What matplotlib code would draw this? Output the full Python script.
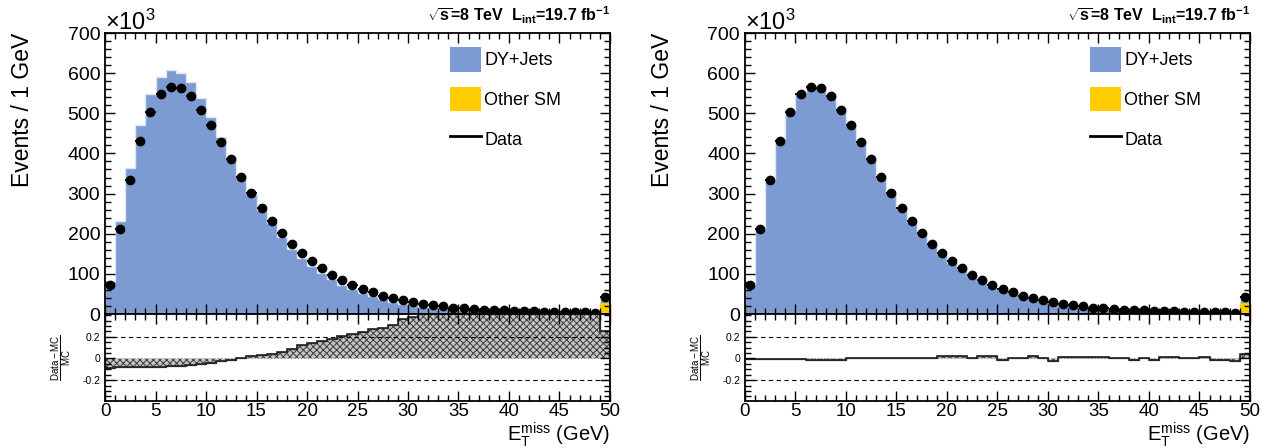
import numpy as np
import matplotlib
matplotlib.use('Agg')
import matplotlib.pyplot as plt
from matplotlib.patches import Patch
from matplotlib.lines import Line2D
from matplotlib.ticker import MultipleLocator, FixedLocator, FixedFormatter

plt.rcParams['font.family'] = ['Liberation Sans', 'DejaVu Sans']
plt.rcParams['mathtext.fontset'] = 'custom'
plt.rcParams['mathtext.rm'] = 'Liberation Sans'
plt.rcParams['mathtext.it'] = 'Liberation Sans:italic'
plt.rcParams['mathtext.bf'] = 'Liberation Sans:bold'
plt.rcParams['hatch.linewidth'] = 0.7

# MET bins 0..50 GeV, last bin is overflow; values in units of 10^3 events
edges = np.arange(0, 51, 1)
centers = edges[:-1] + 0.5

data = [72, 211, 333, 432, 504, 548, 566, 562, 542, 508,
        470, 428, 385, 342, 302, 265, 231, 203, 175, 153,
        131, 115, 98, 85, 72, 63, 54, 46, 40, 34,
        29, 25, 22, 19, 16, 14, 12.5, 11, 10, 9,
        8, 7, 6.5, 6, 5.5, 5, 4.5, 4, 3.5, 43]

other_sm = [3, 3, 3, 3, 3, 3, 3, 3, 3, 3,
            3, 3, 3, 3, 3, 3, 3, 3, 3, 3,
            3, 3, 3, 3, 3, 3, 3, 3, 3, 3,
            3, 3, 3, 3, 3, 3, 3, 3, 3, 3,
            3, 3, 3, 3, 3, 3, 3, 3, 3, 27]

# DY+Jets before reweighting (left) and after (right)
dy_left = [78, 229, 360, 467, 545, 588, 605, 597, 574, 535,
           488, 437, 388, 343, 297, 255, 223, 190, 160, 137,
           116, 98, 83, 69, 59, 49, 41, 34, 28, 23,
           19, 15, 12, 9.5, 7.5, 6, 4.8, 3.8, 3, 2.2,
           1.6, 1.0, 0.6, 0.3, 0.2, 0.1, 0.1, 0.1, 0.1, 10]
dy_right = [69.5, 209, 332, 432, 504, 548, 567, 563, 545, 510,
            468, 426, 383, 339, 298, 261, 227, 199, 171, 147,
            125, 110, 95, 80, 67, 60, 51, 43, 36, 31,
            27, 21.7, 18.7, 15.8, 12.8, 11, 9.5, 8, 7.1, 6,
            5.2, 3.9, 3.4, 3, 2.5, 1.9, 1.6, 1.1, 0.6, 14.5]

# (Data-MC)/MC
ratio_left = [-0.088, -0.078, -0.078, -0.075, -0.075, -0.075, -0.072, -0.066, -0.06, -0.05,
              -0.038, -0.025, -0.012, 0.0, 0.019, 0.028, 0.044, 0.062, 0.09, 0.12,
              0.138, 0.16, 0.18, 0.203, 0.222, 0.247, 0.275, 0.285, 0.31, 0.36,
              0.378, 0.45, 0.5, 0.52, 0.55, 0.58, 0.6, 0.62, 0.65, 0.7,
              0.72, 0.75, 0.8, 0.85, 0.9, 0.95, 1.0, 1.0, 1.0, 0.25]
ratio_right = [-0.003, -0.003, -0.003, -0.008, -0.008, -0.005, -0.012, -0.012, -0.012, -0.012,
               0.0, 0.0, 0.0, 0.0, 0.005, 0.005, 0.005, 0.005, 0.005, 0.02,
               0.02, 0.02, 0.0, 0.02, 0.02, -0.012, 0.0, 0.0, 0.022, 0.0,
               -0.02, 0.012, 0.012, 0.012, 0.012, 0.012, 0.0, 0.0, -0.01, 0.0,
               -0.016, 0.012, 0.012, 0.0, 0.0, 0.012, -0.012, -0.012, -0.02, 0.04]

dy_color = '#7b9bd2'
other_color = '#ffcc00'


def style_axis(ax):
    ax.tick_params(which='both', direction='in', top=True, right=True)
    ax.tick_params(which='major', length=7, width=1)
    ax.tick_params(which='minor', length=4, width=1)
    for s in ax.spines.values():
        s.set_linewidth(1.3)
    ax.xaxis.set_major_locator(MultipleLocator(5))
    ax.xaxis.set_minor_locator(MultipleLocator(1))


def draw_panel(fig, x0, dy, ratio):
    other = np.array(other_sm)
    total = other + np.array(dy)

    ax = fig.add_axes([x0, 0.2991, 0.3976, 0.6272])
    ax.stairs(total, edges, fill=True, color=dy_color, linewidth=0)
    ax.stairs(total, edges, color='#dde5f4', linewidth=1)
    ax.stairs(other, edges, fill=True, color=other_color, linewidth=0)
    ax.errorbar(centers, data, xerr=0.5, fmt='o', color='black', ms=6,
                elinewidth=1.3, capsize=0, zorder=5)
    ax.set_xlim(0, 50)
    ax.set_ylim(0, 700)
    style_axis(ax)
    ax.yaxis.set_major_locator(MultipleLocator(100))
    ax.yaxis.set_minor_locator(MultipleLocator(20))
    ax.tick_params(axis='y', labelsize=14)
    ax.set_xticklabels([])
    ax.set_ylabel('Events / 1 GeV', fontsize=16.5, loc='top', labelpad=24)
    ax.text(0.0, 0.995, r'$\times10^{3}$', transform=ax.transAxes, fontsize=17,
            ha='left', va='bottom')
    ax.text(1.0, 1.025, r'$\mathbf{\sqrt{s}}$=8 TeV  L$_{\mathbf{int}}$=19.7 fb$^{\mathbf{-1}}$',
            transform=ax.transAxes, fontsize=11.5, fontweight='bold',
            ha='right', va='bottom')

    handles = [Patch(facecolor=dy_color, edgecolor='none'),
               Patch(facecolor=other_color, edgecolor='none'),
               Line2D([], [], color='black', linewidth=2)]
    ax.legend(handles, ['DY+Jets', 'Other SM', 'Data'], loc='upper left',
              bbox_to_anchor=(0.651, 1.007), frameon=False, fontsize=13,
              handlelength=1.7, handleheight=1.7, labelspacing=0.85,
              handletextpad=0.2)

    axr = fig.add_axes([x0, 0.1056, 0.3976, 0.1935])
    axr.stairs(ratio, edges, baseline=0, fill=True, facecolor='#c4c4c4',
               edgecolor='#3a3a3a', hatch='xxxxx', linewidth=0.9)
    axr.stairs(ratio, edges, baseline=0, color='#222222', linewidth=1.2)
    axr.axhline(0.2, color='black', linestyle='--', linewidth=0.8, dashes=(4, 3))
    axr.axhline(-0.2, color='black', linestyle='--', linewidth=0.8, dashes=(4, 3))
    axr.set_xlim(0, 50)
    axr.set_ylim(-0.39, 0.41)
    style_axis(axr)
    axr.yaxis.set_major_locator(FixedLocator([-0.2, 0.0, 0.2]))
    axr.yaxis.set_major_formatter(FixedFormatter(['-0.2', '0', '0.2']))
    axr.yaxis.set_minor_locator(MultipleLocator(0.05))
    axr.tick_params(axis='y', labelsize=7.5)
    axr.tick_params(axis='x', labelsize=13.5, pad=2)
    axr.set_ylabel(r'$\frac{\mathrm{Data-MC}}{\mathrm{MC}}$', fontsize=10, labelpad=6)
    axr.set_xlabel(r'$\mathrm{E_{T}^{miss}}$ (GeV)', fontsize=14.5, loc='right',
                   labelpad=0)
    return ax, axr


fig = plt.figure(figsize=(12.7, 4.48), dpi=100)
draw_panel(fig, 0.0827, dy_left, ratio_left)
draw_panel(fig, 0.5866, dy_right, ratio_right)
fig.savefig('out.png', dpi=100)
